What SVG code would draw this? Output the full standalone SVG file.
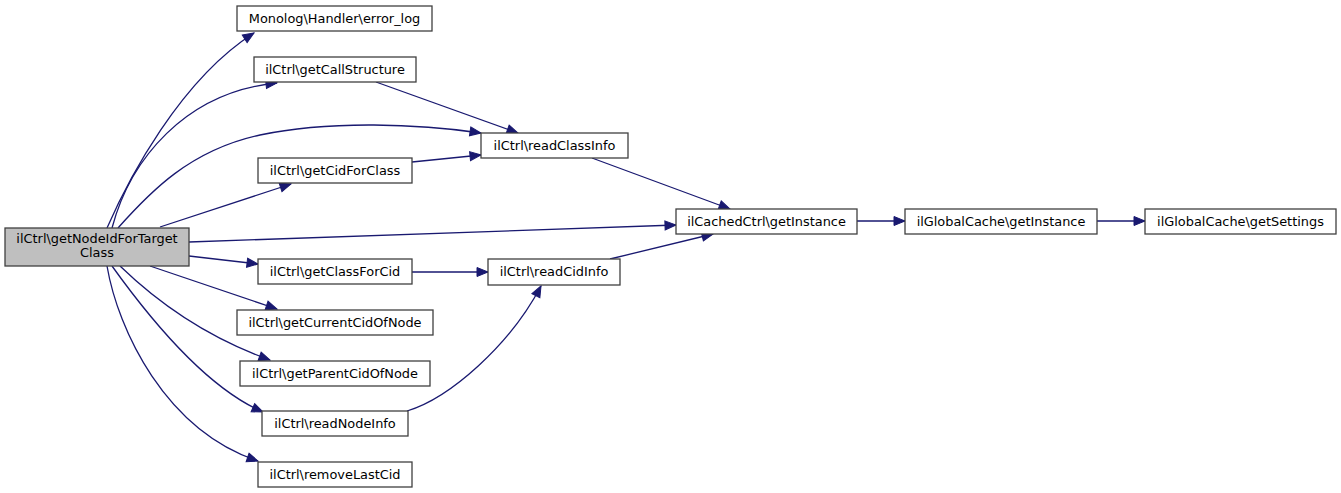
<svg xmlns="http://www.w3.org/2000/svg" width="1341" height="493" viewBox="0 0 1341 493">
<style>
.n rect{fill:#ffffff;stroke:#404040;stroke-width:1.3}
.n.sel rect{fill:#bfbfbf}
.n text{font-family:"DejaVu Sans","Liberation Sans",sans-serif;font-size:12.9px;fill:#000;text-anchor:middle}
#edges path{fill:none;stroke:#191970;stroke-width:1.3;marker-end:url(#arr)}
</style>
<defs>
<marker id="arr" markerUnits="userSpaceOnUse" markerWidth="14" markerHeight="12" viewBox="-1 -6 13 12" refX="11" refY="0" orient="auto">
<path d="M0,-4.5 L11,0 L0,4.5 z" fill="#191970" stroke="#191970" stroke-width="1"/>
</marker>
</defs>
<rect width="1341" height="493" fill="#ffffff"/>
<g id="edges">
<path d="M107,228 C128,180 180,80 254,33"/>
<path d="M112,228 C130,160 185,92 277,83"/>
<path d="M118,228 C150,192 190,150 260,135 C330,120 420,124 481,133"/>
<path d="M160,227 L291,184"/>
<path d="M189,242 L676,225"/>
<path d="M189,256 L258,264"/>
<path d="M150,266 L277,309"/>
<path d="M120,266 C150,295 200,335 270,360"/>
<path d="M112,266 C140,305 200,385 263,412"/>
<path d="M107,266 C118,330 165,430 258,461"/>
<path d="M376,82 L518,133"/>
<path d="M412,162 L481,155"/>
<path d="M592,158 L730,209"/>
<path d="M412,272 L488,272"/>
<path d="M407,411 C450,398 510,345 541,286"/>
<path d="M610,259 L713,234"/>
<path d="M857,221 L905,221"/>
<path d="M1097,221 L1145,221"/>
</g>
<g id="n_main" class="n sel"><rect x="5" y="228" width="184" height="38"/><text x="97" y="243">ilCtrl\getNodeIdForTarget</text><text x="97" y="257">Class</text></g>
<g id="n_errorlog" class="n"><rect x="237" y="6" width="195" height="25"/><text x="334.5" y="23">Monolog\Handler\error_log</text></g>
<g id="n_getCallStructure" class="n"><rect x="254" y="57" width="162" height="25"/><text x="335" y="74">ilCtrl\getCallStructure</text></g>
<g id="n_readClassInfo" class="n"><rect x="481" y="133" width="147" height="25"/><text x="554.5" y="150">ilCtrl\readClassInfo</text></g>
<g id="n_getCidForClass" class="n"><rect x="258" y="158" width="154" height="25"/><text x="335" y="175">ilCtrl\getCidForClass</text></g>
<g id="n_cachedGetInstance" class="n"><rect x="676" y="209" width="181" height="25"/><text x="766.5" y="226">ilCachedCtrl\getInstance</text></g>
<g id="n_globalGetInstance" class="n"><rect x="905" y="209" width="192" height="25"/><text x="1001" y="226">ilGlobalCache\getInstance</text></g>
<g id="n_getSettings" class="n"><rect x="1145" y="209" width="191" height="25"/><text x="1240.5" y="226">ilGlobalCache\getSettings</text></g>
<g id="n_getClassForCid" class="n"><rect x="258" y="259" width="154" height="25"/><text x="335" y="276">ilCtrl\getClassForCid</text></g>
<g id="n_readCidInfo" class="n"><rect x="488" y="259" width="132" height="26"/><text x="554" y="276">ilCtrl\readCidInfo</text></g>
<g id="n_getCurrentCidOfNode" class="n"><rect x="237" y="310" width="196" height="25"/><text x="335" y="327">ilCtrl\getCurrentCidOfNode</text></g>
<g id="n_getParentCidOfNode" class="n"><rect x="240" y="361" width="190" height="25"/><text x="335" y="378">ilCtrl\getParentCidOfNode</text></g>
<g id="n_readNodeInfo" class="n"><rect x="262" y="411" width="146" height="25"/><text x="335" y="428">ilCtrl\readNodeInfo</text></g>
<g id="n_removeLastCid" class="n"><rect x="258" y="462" width="154" height="25"/><text x="335" y="479">ilCtrl\removeLastCid</text></g>
</svg>
